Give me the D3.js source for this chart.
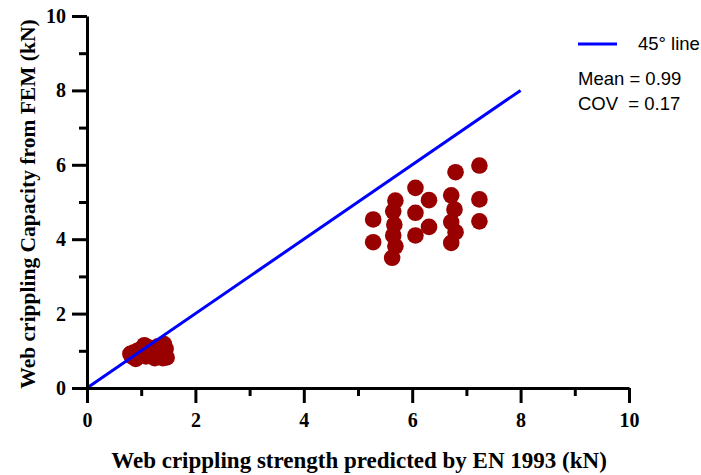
<!DOCTYPE html>
<html><head><meta charset="utf-8">
<script src="https://cdn.jsdelivr.net/npm/d3@7"></script>
<style>body{margin:0;background:#fff}svg{display:block}</style>
</head><body><svg id="c" width="701" height="475"></svg>
<script>
// ---- data ----
const majorTicks = [0, 2, 4, 6, 8, 10];
const minorTicks = [1, 3, 5, 7, 9];
const lineX = [0, 8];
const lineY = [0, 8];
const predicted = [
  0.80, 0.83, 0.86, 0.90, 0.93, 0.96, 1.00, 1.03, 1.06, 1.09, 1.13, 1.16, 1.20, 1.25, 1.28, 1.31, 1.35, 1.38, 1.42, 1.45, 1.47, 1.40,
  5.28, 5.28, 5.69, 5.65, 5.67, 5.65, 5.69, 5.63, 6.06, 6.06, 6.06, 6.31, 6.31, 6.80, 6.72, 6.78, 6.72, 6.80, 6.72, 7.24, 7.24, 7.24
];
const fem = [
  0.92, 0.85, 0.95, 0.78, 1.00, 0.88, 1.05, 0.93, 1.15, 0.85, 0.98, 1.08, 0.90, 0.80, 1.00, 1.12, 0.85, 0.95, 1.18, 1.05, 0.82, 0.80,
  4.53, 3.92, 5.04, 4.75, 4.39, 4.10, 3.81, 3.50, 5.38, 4.71, 4.10, 5.05, 4.33, 5.80, 5.18, 4.80, 4.46, 4.19, 3.90, 5.98, 5.07, 4.48
];
const legendLabel = "45\u00b0 line";
const statsText = ["Mean = 0.99", "COV  = 0.17"];
const xTitle = "Web crippling strength predicted by EN 1993 (kN)";
const yTitle = "Web crippling Capacity from FEM (kN)";

// ---- chart ----
const svg = d3.select("#c");
const x = d3.scaleLinear().domain([0, 10]).range([87, 629]);
const y = d3.scaleLinear().domain([0, 10]).range([388, 16]);
const serif = "'Liberation Serif','Times New Roman',serif";
const sans = "'Liberation Sans',Arial,sans-serif";

// points
svg.append("g").selectAll("circle").data(predicted).join("circle")
  .attr("cx", d => x(d)).attr("cy", (d, i) => y(fem[i])).attr("r", 8.3)
  .attr("fill", "#990000");

// 45 line
svg.append("line")
  .attr("x1", x(lineX[0])).attr("y1", y(lineY[0]))
  .attr("x2", x(lineX[1])).attr("y2", y(lineY[1]))
  .attr("stroke", "#0000ff").attr("stroke-width", 3);

function styleAxis(g) {
  g.select(".domain").attr("stroke", "#000").attr("stroke-width", 3);
  g.selectAll(".tick line").attr("stroke", "#000").attr("stroke-width", 3);
  g.selectAll(".tick text").attr("font-family", serif).attr("font-weight", "bold")
    .attr("font-size", 20).attr("fill", "#000");
}

// x axis
const gx = svg.append("g").attr("transform", `translate(0,${y(0)})`);
gx.call(d3.axisBottom(x).tickValues(majorTicks).tickSize(15).tickSizeOuter(0).tickPadding(10).tickFormat(d3.format("d")));
styleAxis(gx);
const gxm = svg.append("g").attr("transform", `translate(0,${y(0)})`);
gxm.call(d3.axisBottom(x).tickValues(minorTicks).tickSize(8).tickFormat(""));
gxm.select(".domain").remove();
styleAxis(gxm);

// y axis
const gy = svg.append("g").attr("transform", `translate(${x(0)},0)`);
gy.call(d3.axisLeft(y).tickValues(majorTicks).tickSize(15).tickSizeOuter(0).tickPadding(6).tickFormat(d3.format("d")));
styleAxis(gy);
const gym = svg.append("g").attr("transform", `translate(${x(0)},0)`);
gym.call(d3.axisLeft(y).tickValues(minorTicks).tickSize(8).tickFormat(""));
gym.select(".domain").remove();
styleAxis(gym);

// titles
svg.append("text").attr("x", 359).attr("y", 468).attr("text-anchor", "middle")
  .attr("font-family", serif).attr("font-weight", "bold").attr("font-size", 23)
  .text(xTitle);
svg.append("text").attr("transform", "translate(35,204) rotate(-90)").attr("text-anchor", "middle")
  .attr("font-family", serif).attr("font-weight", "bold").attr("font-size", 21.5)
  .text(yTitle);

// legend
svg.append("line").attr("x1", 578).attr("x2", 617).attr("y1", 44).attr("y2", 44)
  .attr("stroke", "#0000ff").attr("stroke-width", 3.2);
svg.append("text").attr("x", 638).attr("y", 50).attr("font-family", sans).attr("font-size", 18.5)
  .attr("fill", "#000").text(legendLabel);
svg.append("text").attr("font-family", sans).attr("font-size", 18.5).attr("fill", "#000")
  .selectAll("tspan").data(statsText).join("tspan")
  .attr("x", 578).attr("y", (d, i) => 85 + i * 25)
  .style("white-space", "pre").text(d => d);
</script></body></html>
